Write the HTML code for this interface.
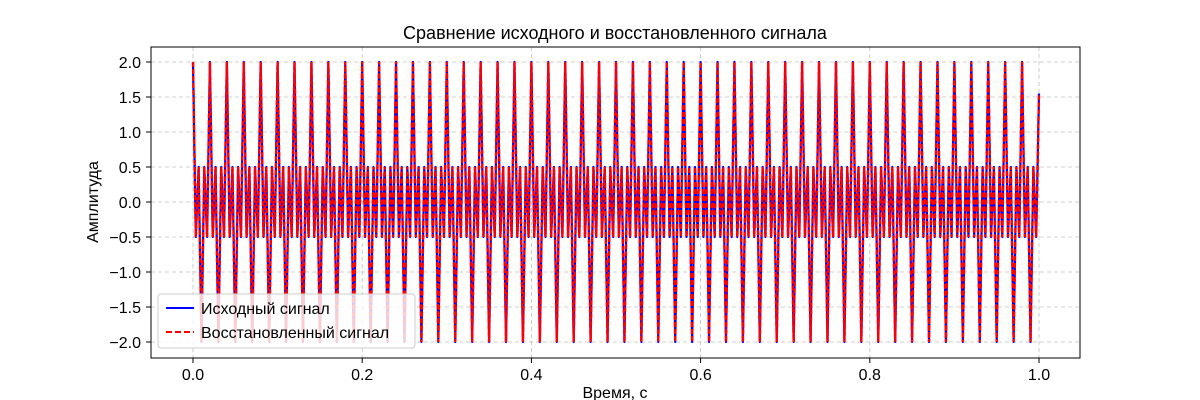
<!DOCTYPE html>
<html><head><meta charset="utf-8">
<style>
html,body{margin:0;padding:0;background:#fff;}
svg{display:block;font-family:"Liberation Sans","DejaVu Sans",sans-serif;}
</style></head>
<body>
<svg id="chart" width="1200" height="400" viewBox="0 0 1200 400">
<text x="615" y="39" font-size="18" text-anchor="middle">Сравнение исходного и восстановленного сигнала</text>
<g id="grid"></g>
<g id="series"></g>
<rect x="151" y="47" width="929" height="311" fill="none" stroke="#000" stroke-width="1"/>
<g id="ticks"></g>
<text x="615" y="398" font-size="16" text-anchor="middle">Время, с</text>
<text transform="translate(98,202) rotate(-90)" font-size="16" text-anchor="middle">Амплитуда</text>
<g>
<rect x="158" y="294" width="257" height="54" rx="3" fill="#fff" fill-opacity="0.8" stroke="#ccc"/>
<line x1="166" y1="308" x2="194" y2="308" stroke="#0000ff" stroke-width="2"/>
<text x="201" y="314" font-size="16">Исходный сигнал</text>
<line x1="166" y1="332" x2="194" y2="332" stroke="#ff0000" stroke-width="2" stroke-dasharray="6,3"/>
<text x="201" y="338" font-size="16">Восстановленный сигнал</text>
</g>
</svg>
<script>
const xTicks = [0.0, 0.2, 0.4, 0.6, 0.8, 1.0];
const xTickLabels = ["0.0", "0.2", "0.4", "0.6", "0.8", "1.0"];
const yTicks = [2.0, 1.5, 1.0, 0.5, 0.0, -0.5, -1.0, -1.5, -2.0];
const yTickLabels = ["2.0", "1.5", "1.0", "0.5", "0.0", "\u22120.5", "\u22121.0", "\u22121.5", "\u22122.0"];
const sampleRate = 300;
const originalValues = [
2,-0.5,0.5,-2,0.5,-0.5, 2,-0.5,0.5,-2,0.5,-0.5, 2,-0.5,0.5,-2,0.5,-0.5, 2,-0.5,0.5,-2,0.5,-0.5, 2,-0.5,0.5,-2,0.5,-0.5,
2,-0.5,0.5,-2,0.5,-0.5, 2,-0.5,0.5,-2,0.5,-0.5, 2,-0.5,0.5,-2,0.5,-0.5, 2,-0.5,0.5,-2,0.5,-0.5, 2,-0.5,0.5,-2,0.5,-0.5,
2,-0.5,0.5,-2,0.5,-0.5, 2,-0.5,0.5,-2,0.5,-0.5, 2,-0.5,0.5,-2,0.5,-0.5, 2,-0.5,0.5,-2,0.5,-0.5, 2,-0.5,0.5,-2,0.5,-0.5,
2,-0.5,0.5,-2,0.5,-0.5, 2,-0.5,0.5,-2,0.5,-0.5, 2,-0.5,0.5,-2,0.5,-0.5, 2,-0.5,0.5,-2,0.5,-0.5, 2,-0.5,0.5,-2,0.5,-0.5,
2,-0.5,0.5,-2,0.5,-0.5, 2,-0.5,0.5,-2,0.5,-0.5, 2,-0.5,0.5,-2,0.5,-0.5, 2,-0.5,0.5,-2,0.5,-0.5, 2,-0.5,0.5,-2,0.5,-0.5,
2,-0.5,0.5,-2,0.5,-0.5, 2,-0.5,0.5,-2,0.5,-0.5, 2,-0.5,0.5,-2,0.5,-0.5, 2,-0.5,0.5,-2,0.5,-0.5, 2,-0.5,0.5,-2,0.5,-0.5,
2,-0.5,0.5,-2,0.5,-0.5, 2,-0.5,0.5,-2,0.5,-0.5, 2,-0.5,0.5,-2,0.5,-0.5, 2,-0.5,0.5,-2,0.5,-0.5, 2,-0.5,0.5,-2,0.5,-0.5,
2,-0.5,0.5,-2,0.5,-0.5, 2,-0.5,0.5,-2,0.5,-0.5, 2,-0.5,0.5,-2,0.5,-0.5, 2,-0.5,0.5,-2,0.5,-0.5, 2,-0.5,0.5,-2,0.5,-0.5,
2,-0.5,0.5,-2,0.5,-0.5, 2,-0.5,0.5,-2,0.5,-0.5, 2,-0.5,0.5,-2,0.5,-0.5, 2,-0.5,0.5,-2,0.5,-0.5, 2,-0.5,0.5,-2,0.5,-0.5,
2,-0.5,0.5,-2,0.5,-0.5, 2,-0.5,0.5,-2,0.5,-0.5, 2,-0.5,0.5,-2,0.5,-0.5, 2,-0.5,0.5,-2,0.5,-0.5, 2,-0.5,0.5,-2,0.5,-0.5,
1.55];
const reconstructedValues = originalValues.slice();

const NS = "http://www.w3.org/2000/svg";
const xScale = v => 193 + v * 846;
const yScale = v => 202 - v * 70;

const grid = document.getElementById("grid");
const ticks = document.getElementById("ticks");
function mk(tag, attrs, parent){ const e = document.createElementNS(NS, tag); for (const k in attrs) e.setAttribute(k, attrs[k]); parent.appendChild(e); return e; }

xTicks.forEach((v, i) => {
  const x = xScale(v);
  const g = mk("line", {x1:x, y1:47, x2:x, y2:358, stroke:"#b0b0b0", "stroke-width":0.8, "stroke-dasharray":"4,3", "stroke-opacity":0.8}, grid);
  
  
  const t = mk("line", {x1:x, y1:358, x2:x, y2:363, stroke:"#000"}, ticks);
  
  
  const l = mk("text", {x:x, y:380, "font-size":16, "text-anchor":"middle"}, ticks);
  l.textContent = xTickLabels[i];
  
  
});
yTicks.forEach((v, i) => {
  const y = yScale(v);
  const g = mk("line", {x1:151, y1:y, x2:1080, y2:y, stroke:"#b0b0b0", "stroke-width":0.8, "stroke-dasharray":"4,3", "stroke-opacity":0.8}, grid);
  
  
  const t = mk("line", {x1:146, y1:y, x2:151, y2:y, stroke:"#000"}, ticks);
  
  
  const l = mk("text", {x:141, y:y+6, "font-size":16, "text-anchor":"end"}, ticks);
  l.textContent = yTickLabels[i];
  
  
});

function pathFor(vals){
  return vals.map((v, i) => (i ? "L" : "M") + xScale(i / sampleRate).toFixed(2) + "," + yScale(v).toFixed(2)).join("");
}
const series = document.getElementById("series");
const p1 = mk("path", {d: pathFor(originalValues), fill:"none", stroke:"#0000ff", "stroke-width":2.2, "stroke-linejoin":"round"}, series);


const p2 = mk("path", {d: pathFor(reconstructedValues), fill:"none", stroke:"#ff0000", "stroke-width":2.4, "stroke-dasharray":"5,2"}, series);


</script>
</body></html>
